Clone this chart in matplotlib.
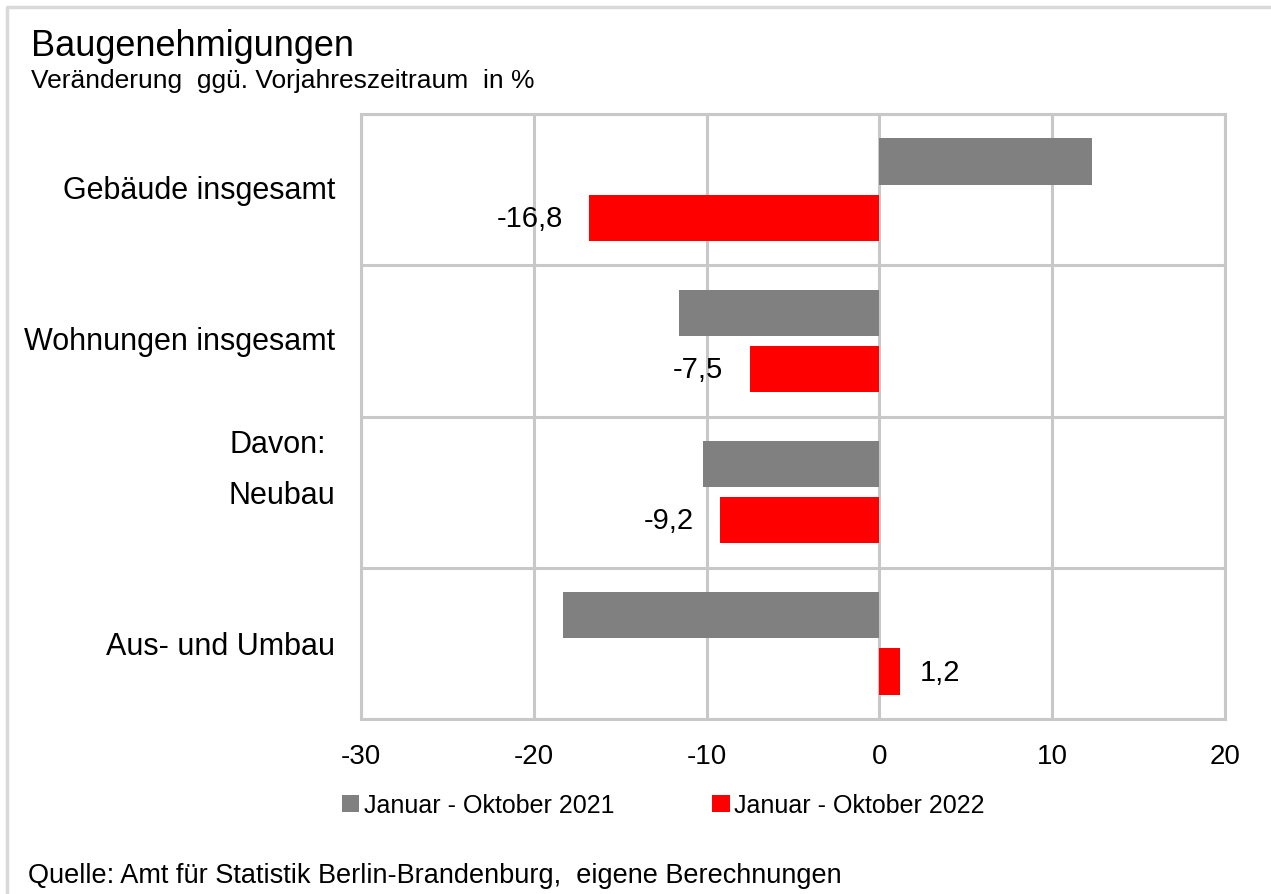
import matplotlib.pyplot as plt
from matplotlib.lines import Line2D

plt.rcParams['font.family'] = ['Liberation Sans', 'DejaVu Sans']

# Data
categories = ['Gebäude insgesamt', 'Wohnungen insgesamt', 'Neubau', 'Aus- und Umbau']
values_2021 = [12.3, -11.6, -10.2, -18.3]
values_2022 = [-16.8, -7.5, -9.2, 1.2]
series_names = ['Januar - Oktober 2021', 'Januar - Oktober 2022']
xticks = [-30, -20, -10, 0, 10, 20]

grey = '#808080'
red = '#ff0000'
gridc = '#c8c8c8'

fig = plt.figure(figsize=(12.71, 8.95), dpi=100)

# outer frame: only top and left edges visible
fig.lines.append(Line2D([7 / 1271, 7 / 1271, 1], [0, 1 - 8 / 895, 1 - 8 / 895],
                        transform=fig.transFigure, color='#d9d9d9', lw=2.5))

ax = fig.add_axes([361 / 1271, 175 / 895, 864 / 1271, 605 / 895])

centers = [i + 0.5 for i in range(len(categories))]
off = 0.186
h = 0.305
ax.barh([c - off for c in centers], values_2021, height=h, color=grey, label=series_names[0])
ax.barh([c + off for c in centers], values_2022, height=h, color=red, label=series_names[1])

# value labels for 2022 series
for c, v in zip(centers, values_2022):
    txt = f'{v:.1f}'.replace('.', ',')
    if v < 0:
        ax.annotate(txt, (v, c + off), xytext=(-19, 0), textcoords='offset points',
                    ha='right', va='center', fontsize=21)
    else:
        ax.annotate(txt, (v, c + off), xytext=(14, 0), textcoords='offset points',
                    ha='left', va='center', fontsize=21)

ax.set_xlim(-30, 20)
ax.set_ylim(4, 0)
ax.set_xticks(xticks)
ax.set_xticklabels([str(t) for t in xticks], fontsize=20)
ax.set_yticks([0, 1, 2, 3, 4])
ax.set_yticklabels([])
ax.tick_params(length=0, pad=17)
ax.grid(True, color=gridc, lw=2.2)
ax.set_axisbelow(True)
for s in ax.spines.values():
    s.set_color(gridc)
    s.set_linewidth(2.2)

# category labels
ypos = [0.5, 1.5, 2.52, 3.52]
for y, name in zip(ypos, categories):
    ax.text(-0.030, y, name, transform=ax.get_yaxis_transform(), ha='right',
            va='center', fontsize=22)
ax.text(-0.040, 2.18, 'Davon:', transform=ax.get_yaxis_transform(), ha='right',
        va='center', fontsize=22)

fig.text(31 / 1271, 1 - 46 / 895, 'Baugenehmigungen', fontsize=26, va='center')
fig.text(31 / 1271, 1 - 81 / 895, 'Veränderung  ggü. Vorjahreszeitraum  in %', fontsize=19, va='center')

fig.legend(loc='center left', bbox_to_anchor=(319 / 1271, 1 - 806 / 895), ncol=2,
           frameon=False, fontsize=18, handlelength=0.7, handleheight=0.7,
           handletextpad=0.2, columnspacing=3.9)

fig.text(28 / 1271, 1 - 876 / 895, 'Quelle: Amt für Statistik Berlin-Brandenburg,  eigene Berechnungen',
         fontsize=19.5, va='center')

fig.savefig('out.png', dpi=100)
